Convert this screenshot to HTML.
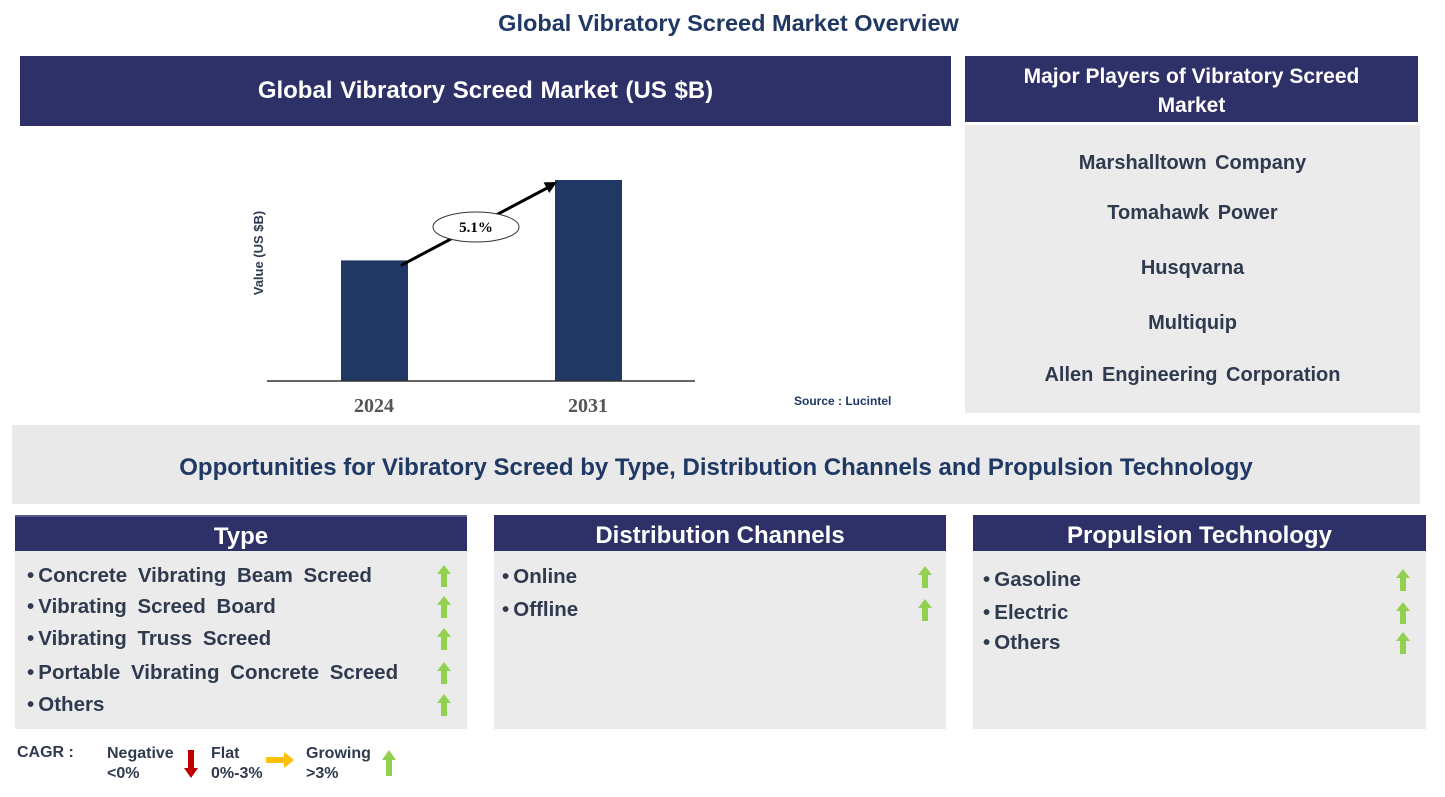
<!DOCTYPE html>
<html><head><meta charset="utf-8"><style>
body{margin:0;width:1445px;height:797px;background:#fff;position:relative;font-family:"Liberation Sans",Arial,sans-serif;overflow:hidden}
.a{position:absolute}
.hdr{background:#2e3068;color:#fff;font-weight:bold;text-align:center}
.gray{background:#ebebeb}
.item{position:absolute;font-weight:bold;font-size:20.5px;color:#2f3a4f;white-space:nowrap;word-spacing:5px}
.up{position:absolute;width:14px;height:22px}
.pl{position:absolute;left:0;right:0;text-align:center;font-weight:bold;font-size:20px;color:#2f3a4f;word-spacing:3px}
</style></head><body>
<div class="a" style="left:0;width:1457px;top:10px;text-align:center;font-weight:bold;font-size:23.5px;color:#1f3864">Global Vibratory Screed Market Overview</div>

<div class="a hdr" style="left:20px;top:56px;width:931px;height:70px;line-height:70px;font-size:24px;word-spacing:1px">Global Vibratory Screed Market (US $B)</div>

<svg class="a" style="left:0;top:126px" width="960" height="295" id="chart"></svg>
<div class="a" style="left:794px;top:394px;font-size:12px;font-weight:bold;color:#1f3864">Source : Lucintel</div>

<div class="a hdr" style="left:965px;top:56px;width:453px;height:66px;font-size:21px;line-height:29px;padding-top:6px;box-sizing:border-box">Major Players of Vibratory Screed<br>Market</div>
<div class="a gray" style="left:965px;top:125px;width:455px;height:288px">
<div class="pl" style="top:27px">Marshalltown Company</div>
<div class="pl" style="top:77px">Tomahawk Power</div>
<div class="pl" style="top:132px">Husqvarna</div>
<div class="pl" style="top:187px">Multiquip</div>
<div class="pl" style="top:239px">Allen Engineering Corporation</div>
</div>

<div class="a" style="left:12px;top:425px;width:1408px;height:79px;background:#e9e9e9;line-height:86px;text-align:center;font-weight:bold;font-size:24px;color:#1f3864">Opportunities for Vibratory Screed by Type, Distribution Channels and Propulsion Technology</div>

<div class="a hdr" style="left:15px;top:515px;width:452px;height:36px;line-height:40px;font-size:24px;border-top:2px solid #5a5c8f;box-sizing:border-box">Type</div>
<div class="a gray" style="left:15px;top:551px;width:452px;height:178px"></div>
<div class="a hdr" style="left:494px;top:515px;width:452px;height:36px;line-height:42px;font-size:24px;box-sizing:border-box">Distribution Channels</div>
<div class="a gray" style="left:494px;top:551px;width:452px;height:178px"></div>
<div class="a hdr" style="left:973px;top:515px;width:453px;height:36px;line-height:42px;font-size:24px;box-sizing:border-box">Propulsion Technology</div>
<div class="a gray" style="left:973px;top:551px;width:453px;height:178px"></div>

<div id="items"></div>

<div class="a" style="left:17px;top:744px;font-weight:bold;font-size:16px;color:#2f3a4f">CAGR :</div>
<div class="a" style="left:107px;top:744px;font-weight:bold;font-size:16px;color:#2f3a4f;line-height:20px">Negative<br>&lt;0%</div>
<svg class="a" style="left:184px;top:750px" width="14" height="28"><path d="M4 0h6v18h4L7 28 0 18h4z" fill="#c00000"/></svg>
<div class="a" style="left:211px;top:744px;font-weight:bold;font-size:16px;color:#2f3a4f;line-height:20px">Flat<br>0%-3%</div>
<svg class="a" style="left:266px;top:752px" width="28" height="16"><path d="M0 5h18V0l10 8-10 8v-5H0z" fill="#ffc000"/></svg>
<div class="a" style="left:306px;top:744px;font-weight:bold;font-size:16px;color:#2f3a4f;line-height:20px">Growing<br>&gt;3%</div>
<svg class="a" style="left:382px;top:750px" width="14" height="26"><path d="M4 26h6V10h4L7 0 0 10h4z" fill="#92d050"/></svg>

<script>
const categories=['2024','2031'];
const values=[1.2,2.0];
const cagrLabel='5.1%';
const svg=document.getElementById('chart');
const NS='http://www.w3.org/2000/svg';
const baseY=255, pxPerUnit=100.5;
const xPos=i=>341+i*214;
const yPos=v=>baseY-v*pxPerUnit;
function mk(t,a){const e=document.createElementNS(NS,t);for(const k in a)e.setAttribute(k,a[k]);svg.appendChild(e);return e;}
let yl=mk('text',{x:263,y:127,transform:'rotate(-90 263 127)','text-anchor':'middle','font-size':13,'font-weight':'bold',fill:'#2f3a4f','font-family':'Liberation Sans'});
yl.textContent='Value (US $B)';


categories.forEach((c,i)=>{
 const r=mk('rect',{x:xPos(i),y:yPos(values[i]),width:67,height:baseY-yPos(values[i]),fill:'#203864'});
 
 
 const t=mk('text',{x:xPos(i)+33,y:286,'text-anchor':'middle','font-size':20,'font-weight':'bold',fill:'#555','font-family':'Liberation Serif'});
 t.textContent=c;
 
 
});
const ax=mk('line',{x1:267,y1:baseY,x2:695,y2:baseY,stroke:'#333','stroke-width':1.5});


const x1=xPos(0)+60,y1=yPos(values[0])+5,x2=xPos(1)+2,y2=yPos(values[1])+2;
const ln=mk('line',{x1:x1,y1:y1,x2:x2-8,y2:y2+5,stroke:'#000','stroke-width':3});


const ang=Math.atan2(y2-y1,x2-x1);
const hp=[[x2,y2],[x2-12*Math.cos(ang)+6*Math.sin(ang),y2-12*Math.sin(ang)-6*Math.cos(ang)],[x2-12*Math.cos(ang)-6*Math.sin(ang),y2-12*Math.sin(ang)+6*Math.cos(ang)]];
mk('polygon',{points:hp.map(p=>p.join(',')).join(' '),fill:'#000'});
const el=mk('ellipse',{cx:476,cy:101,rx:43,ry:15,fill:'#fff',stroke:'#333','stroke-width':1});


const ct=mk('text',{x:476,y:106,'text-anchor':'middle','font-size':15,'font-weight':'bold',fill:'#000','font-family':'Liberation Serif'});
ct.textContent=cagrLabel;

const lists=[
 {x:27,ax:437,ys:[576,607,639,673,705],items:['Concrete Vibrating Beam Screed','Vibrating Screed Board','Vibrating Truss Screed','Portable Vibrating Concrete Screed','Others']},
 {x:502,ax:918,ys:[577,610],items:['Online','Offline']},
 {x:983,ax:1396,ys:[580,613,643],items:['Gasoline','Electric','Others']}
];
const cont=document.getElementById('items');
lists.forEach(l=>l.items.forEach((t,i)=>{
 const d=document.createElement('div');d.className='item';
 d.style.left=l.x+'px';d.style.top=(l.ys[i]-12)+'px';
 d.innerHTML='<span style="word-spacing:0">•&#8201;</span>'+t;
 
 
 cont.appendChild(d);
 const a=document.createElementNS(NS,'svg');a.setAttribute('class','up');
 a.style.left=l.ax+'px';a.style.top=(l.ys[i]-11)+'px';a.setAttribute('width','14');a.setAttribute('height','22');
 a.innerHTML='<path d="M4 22h6V9h4L7 0 0 9h4z" fill="#92d050"/>';
 
 
 cont.appendChild(a);
}));
</script>
</body></html>
